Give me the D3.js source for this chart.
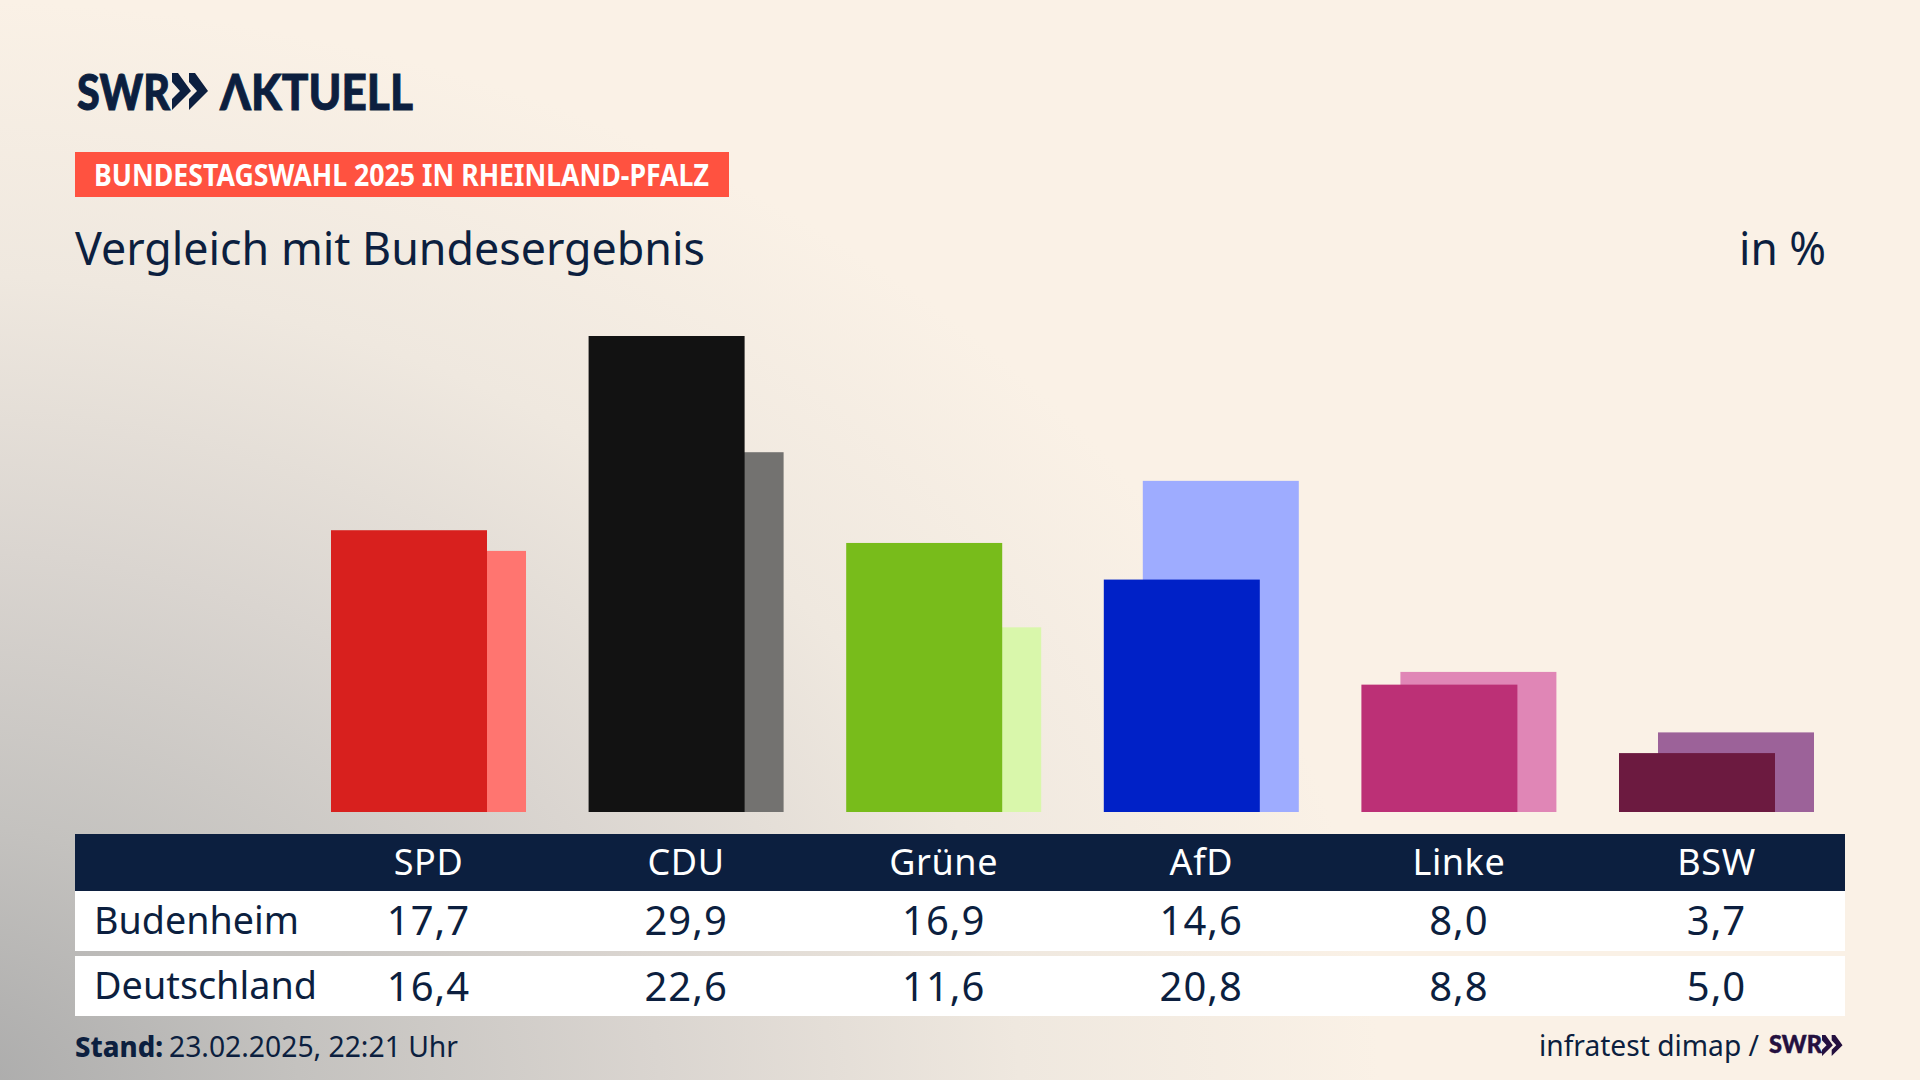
<!DOCTYPE html>
<html><head><meta charset="utf-8">
<script src="https://cdn.jsdelivr.net/npm/d3@7"></script>
<style>html,body{margin:0;padding:0;background:#faf1e6;overflow:hidden}svg{display:block}text{font-family:"Noto Sans","Open Sans",sans-serif}</style>
</head><body><svg id="c" width="1920" height="1080"></svg>
<script>
const parties=["SPD","CDU","Grüne","AfD","Linke","BSW"];
const budenheim=[17.7,29.9,16.9,14.6,8.0,3.7];
const deutschland=[16.4,22.6,11.6,20.8,8.8,5.0];
const frontColors=["#d8201e","#121212","#78bc1b","#0021c7","#bc3076","#6c1a40"];
const backColors=["#ff7570","#737270","#d9f7ab","#9eacff","#e086b6","#9c6299"];
const rowLabels=["Budenheim","Deutschland"];
const NAVY="#0c1f3f";
const fmt=v=>v.toFixed(1).replace(".",",");
const svg=d3.select("#c");
const defs=svg.append("defs");
const g=defs.append("radialGradient").attr("id","bg").attr("gradientUnits","userSpaceOnUse")
 .attr("cx",0).attr("cy",0).attr("r",1)
 .attr("gradientTransform","translate(-60 1100) scale(1440 1100)");
[[0,"#a9a9a9"],[.25,"#c4c2bf"],[.5,"#dad5d0"],[.75,"#efe8df"],[1,"#faf1e6"]].forEach(([o,c])=>g.append("stop").attr("offset",o).attr("stop-color",c));
svg.append("rect").attr("width",1920).attr("height",1080).attr("fill","#faf1e6");
svg.append("rect").attr("width",1920).attr("height",1080).attr("fill","url(#bg)");

const label=(t,x,y,size,fill,w,opts={})=>{
 const s=svg.append("text").attr("x",x).attr("y",y).attr("font-size",size).attr("fill",fill).attr("font-weight",opts.weight||400).text(t);
 if(w){s.attr("textLength",w).attr("lengthAdjust","spacingAndGlyphs");}
 if(opts.family)s.style("font-family",opts.family);
 if(opts.stroke)s.attr("stroke",fill).attr("stroke-width",opts.stroke);
 return s;};
const chev=(x,y,s,fill)=>{[0,17].forEach(dx=>svg.append("path").attr("fill",fill)
 .attr("transform",`translate(${x+dx*s} ${y}) scale(${s})`).attr("d","M0 0 L6 0 L19 18 L0 37 L0 26 L8 18 L0 9 Z"));};

// logo
label("SWR",77,110,50,NAVY,93,{weight:900,family:"Lato",stroke:1});
chev(172,73,1,NAVY);
label("ΛKTUELL",220,110,50,NAVY,193,{weight:900,family:"Lato",stroke:.8});

// kicker
svg.append("rect").attr("x",75).attr("y",152).attr("width",654).attr("height",45).attr("fill","#ff5240");
label("BUNDESTAGSWAHL 2025 IN RHEINLAND-PFALZ",94,186,30,"#fff",615,{weight:700});
label("Vergleich mit Bundesergebnis",75,265,45,NAVY,630);
label("in %",1739,265,45,NAVY,87);

// scales
const x=d3.scaleBand().domain(parties).range([331,1814]).paddingInner(0.243).paddingOuter(0);
const y=d3.scaleLinear().domain([0,29.9]).range([812,336]);
const bw=x.bandwidth();
const rows=parties.map((p,i)=>({p,a:budenheim[i],b:deutschland[i],fc:frontColors[i],bc:backColors[i]}));
svg.append("g").selectAll("rect").data(rows).join("rect").attr("x",d=>x(d.p)+bw*.2).attr("width",bw*.8).attr("y",d=>y(d.b)).attr("height",d=>y(0)-y(d.b)).attr("fill",d=>d.bc);
svg.append("g").selectAll("rect").data(rows).join("rect").attr("x",d=>x(d.p)).attr("width",bw*.8).attr("y",d=>y(d.a)).attr("height",d=>y(0)-y(d.a)).attr("fill",d=>d.fc);

// table
svg.append("rect").attr("x",75).attr("y",834).attr("width",1770).attr("height",57).attr("fill",NAVY);
svg.append("rect").attr("x",75).attr("y",891).attr("width",1770).attr("height",60).attr("fill","#fff");
svg.append("rect").attr("x",75).attr("y",956).attr("width",1770).attr("height",60).attr("fill","#fff");
const cx=p=>x(p)+bw/2;
svg.append("g").selectAll("text").data(parties).join("text").attr("x",cx).attr("y",875).attr("text-anchor","middle").attr("font-size",36).attr("letter-spacing",.6).attr("fill","#fff").text(d=>d);
[[budenheim,935],[deutschland,1001]].forEach(([vals,by])=>{
 svg.append("g").selectAll("text").data(vals).join("text").attr("x",(d,i)=>cx(parties[i])).attr("y",by).attr("text-anchor","middle").attr("font-size",40).attr("letter-spacing",1).attr("fill",NAVY).text(fmt);
});
label(rowLabels[0],94,934,38,NAVY,205);
label(rowLabels[1],94,999,38,NAVY,223);

// footer
label("Stand:",75,1057,29,NAVY,88,{weight:800});
label("23.02.2025, 22:21 Uhr",169,1057,29,NAVY,289);
label("infratest dimap /",1539,1056,29,NAVY,220);
label("SWR",1769,1053,25,"#24103f",53,{weight:900,family:"Lato",stroke:.5});
chev(1822,1035,.57,"#24103f");
</script></body></html>
